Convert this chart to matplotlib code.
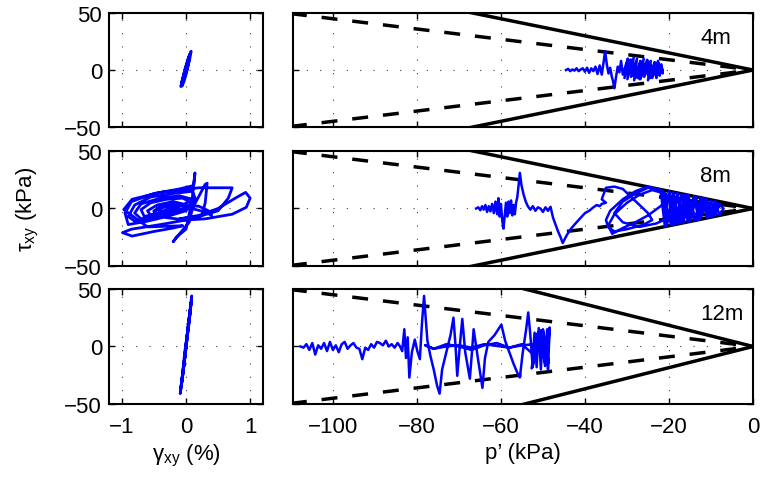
import matplotlib
matplotlib.use("Agg")
import matplotlib.pyplot as plt

plt.rcParams['font.family'] = ['Liberation Sans', 'DejaVu Sans']
plt.rcParams['mathtext.default'] = 'regular'
plt.rcParams['font.size'] = 16

depths = ["4m", "8m", "12m"]
# stress ratio of the solid (failure) lines per depth, dashed line ratio is shared
solid_ratio = [0.75, 0.75, 0.92]
dashed_ratio = 0.45

# shear strain (%) vs shear stress (kPa), left column
gam_4m = [0.00, -0.03, -0.06, -0.08, -0.06, -0.03, 0.01, 0.04, 0.07, 0.08,
          0.06, 0.03, 0.00, -0.03, -0.06, -0.07, -0.04, -0.01, 0.03, 0.06,
          0.05, 0.02, -0.02, -0.05, -0.07, -0.04, 0.00, 0.03, 0.05, 0.02]
tau_4m = [0.0, -7.0, -12.0, -14.5, -9.0, -3.0, 5.0, 11.0, 15.0, 16.5,
          10.0, 3.0, -4.0, -10.0, -14.0, -12.0, -5.0, 2.0, 9.0, 14.0,
          9.0, 1.0, -6.0, -11.0, -13.0, -7.0, 1.0, 7.0, 11.0, 4.0]

gam_8m = [0.00, -0.30, -0.55, -0.60, -0.45, -0.20, -0.05, -0.25, -0.50, -0.65,
          -0.70, -0.55, -0.30, -0.05, 0.05, -0.20, -0.45, -0.70, -0.80, -0.70,
          -0.40, -0.10, 0.10, 0.05, -0.20, -0.50, -0.80, -0.90, -0.80, -0.55,
          -0.20, 0.10, 0.15, 0.00, -0.30, -0.60, -0.90, -0.95, -0.85, -0.50,
          -0.10, 0.12, 0.14, 0.10, 0.05, 0.00, -0.15, -0.20, -0.10, 0.05,
          0.10, 0.30, 0.33, 0.30, 0.25, 0.00, -0.40, -0.85, -0.99, -0.84,
          -0.50, -0.20, -0.05, -0.60, -0.97, -0.84, -0.40, 0.20, 0.72, 0.66,
          0.50, 0.20, -0.10, 0.20, 0.50, 0.80, 0.93, 1.00, 0.94, 0.72,
          0.30, 0.00, -0.30, -0.50, -0.40, -0.20, 0.30, 0.40, 0.35, 0.20,
          -0.10, -0.35, -0.50, -0.45, -0.30, -0.15, -0.30, -0.45, -0.35, -0.20]
tau_8m = [0.0, -3.0, -6.0, -2.0, 3.0, 6.0, 4.0, -2.0, -5.0, -7.0,
          -1.0, 5.0, 8.0, 9.0, 6.0, -1.0, -6.0, -9.0, -4.0, 4.0,
          9.0, 11.0, 8.0, 2.0, -4.0, -8.0, -11.0, -7.0, 3.0, 10.0,
          13.0, 15.0, 8.0, -2.0, -7.0, -11.0, -14.0, -4.0, 6.0, 13.0,
          17.0, 20.0, 31.0, 10.0, -5.0, -18.0, -25.0, -29.0, -22.0, -12.0,
          0.0, 21.0, 22.0, 5.0, -6.0, -10.0, -14.0, -18.0, -21.0, -24.0,
          -20.0, -17.0, -15.0, -16.0, -1.0, 8.0, 14.0, 18.0, 18.0, 9.0,
          -2.0, -7.0, -9.0, -6.0, 0.0, 10.0, 14.0, 9.0, 1.0, -5.0,
          -9.0, -10.0, -8.0, -3.0, 2.0, 4.0, -3.0, -6.0, -2.0, 2.0,
          3.0, 1.0, -2.0, -4.0, -1.0, 2.0, 3.0, 0.0, -3.0, 0.0]

gam_12m = [0.00, -0.03, -0.06, -0.09, -0.06, -0.02, 0.02, 0.06, 0.09, 0.07,
           0.03, -0.02, -0.05, -0.08, -0.05, -0.01, 0.03, 0.06, 0.08, 0.04,
           0.00, -0.04, -0.07, -0.03, 0.01, 0.05, 0.07, 0.03, -0.01, -0.04]
tau_12m = [0.0, -15.0, -30.0, -41.0, -28.0, -10.0, 10.0, 30.0, 44.0, 32.0,
           15.0, -5.0, -22.0, -36.0, -25.0, -6.0, 13.0, 26.0, 38.0, 20.0,
           0.0, -18.0, -32.0, -16.0, 3.0, 22.0, 34.0, 16.0, -4.0, -20.0]

# effective mean stress p' (kPa) vs shear stress (kPa), right column
p_4m = [-44.5, -44.0, -43.5, -43.0, -42.5, -42.0, -41.5, -41.0, -40.5, -40.0,
        -39.5, -39.0, -38.5, -38.0, -37.5, -37.0, -36.5, -36.0, -35.6, -35.2,
        -34.8, -34.4, -34.0, -33.6, -33.3, -33.0, -32.6, -32.2, -31.8, -31.4,
        -31.0, -29.8, -30.6, -29.2, -29.9, -28.4, -29.0, -27.6, -28.3, -26.8,
        -27.5, -26.0, -26.8, -25.2, -25.9, -24.3, -25.0, -23.4, -24.1, -22.6,
        -23.0, -22.6, -22.2, -21.8, -21.5, -22.5, -24.0, -26.0, -28.0, -30.0,
        -28.5, -26.5, -24.5, -22.5, -21.5, -23.0, -25.0, -27.0, -29.0, -30.5]
q_4m = [0.0, 1.0, -1.0, 0.5, -0.5, 1.5, -1.0, 0.5, 1.5, -1.5,
        2.0, -2.5, 1.5, -1.0, 3.0, -3.5, 4.0, -4.0, 6.0, 16.5,
        5.0, -3.0, 2.0, -6.0, -10.0, -16.0, -6.0, 3.0, -2.0, 8.0,
        -4.0, 10.0, -7.0, 9.0, -8.0, 11.0, -6.0, 10.0, -9.0, 8.0,
        -7.0, 10.0, -8.0, 9.0, -6.0, 8.0, -9.0, 7.0, -6.0, 8.0,
        -7.0, 6.0, -5.0, 5.0, -3.0, 6.0, -7.0, 5.0, -6.0, 4.0,
        -5.0, 7.0, -7.0, 6.0, 0.0, -5.0, 8.0, -8.0, 9.0, -3.0]

p_8m = [-65.9, -65.4, -64.9, -64.5, -64.1, -63.7, -63.3, -62.9, -62.5, -62.1,
        -61.7, -61.3, -60.9, -60.6, -60.3, -60.0, -59.7, -59.4, -59.1, -58.8,
        -58.5, -58.2, -57.9, -57.6, -57.3, -57.0, -56.7, -56.4, -56.1, -55.8,
        -55.5, -55.1, -54.6, -54.1, -53.6, -53.0, -52.4, -51.8, -51.2, -50.6,
        -50.0, -49.4, -48.8, -48.2, -47.6, -47.0, -46.4, -45.8, -45.3, -44.3,
        -43.2, -42.0, -41.0, -40.0, -39.0, -38.0, -37.2, -36.5, -36.0, -35.0,
        -36.0, -35.0, -33.0, -31.0, -29.0, -27.0, -25.0, -24.0, -26.0, -30.0,
        -33.0, -34.5, -35.0, -34.0, -31.0, -28.0, -25.0, -22.0, -20.0, -22.0,
        -25.0, -28.0, -31.0, -33.5, -34.5, -33.0, -30.0, -27.0, -24.0, -21.0,
        -19.0, -18.0, -20.0, -23.0, -27.0, -31.0, -33.0, -31.0, -28.0, -25.0,
        -22.0, -21.0, -20.0, -19.0, -18.0, -17.0, -16.0, -15.0, -14.0, -13.0,
        -12.0, -11.0, -10.0, -9.0, -8.0, -9.5, -11.0, -12.5, -14.0, -15.5,
        -17.0, -18.5, -20.0, -18.0, -16.0, -14.0, -12.0, -10.0, -8.5, -7.0,
        -8.0, -9.0, -10.5, -11.5, -13.0, -13.5, -15.0, -16.5, -17.5, -19.0,
        -20.5, -21.5, -19.5, -18.0, -16.5, -15.5, -13.5, -12.5, -10.0, -9.0]
q_8m = [0.0, 1.0, -1.5, 2.0, -1.0, 3.0, -3.0, 2.0, -2.5, 4.0,
        -4.0, 6.0, -5.0, 9.0, -7.0, 4.0, -10.0, -17.5, -6.0, 5.0,
        -7.0, 6.0, -4.0, 7.0, -6.0, 3.0, -5.0, 5.0, 10.0, 20.0,
        31.0, 20.0, 12.0, 6.0, 2.0, -1.0, 2.0, -2.0, 1.0, 0.0,
        -3.0, 1.0, -2.0, 1.5, -8.0, -14.0, -20.0, -25.0, -30.0, -23.0,
        -17.0, -12.0, -8.0, -4.0, -2.0, 1.0, 3.0, 2.0, 4.0, 5.0,
        8.0, 18.0, 19.0, 17.0, 10.0, 3.0, -4.0, -10.0, -14.0, -18.0,
        -20.0, -16.0, -10.0, -2.0, 8.0, 15.0, 19.0, 16.0, 10.0, 2.0,
        -6.0, -12.0, -17.0, -22.0, -15.0, -5.0, 5.0, 12.0, 16.0, 13.0,
        6.0, -2.0, -8.0, -13.0, -16.0, -12.0, -4.0, 6.0, 13.0, 18.0,
        16.0, -15.0, 14.5, -14.0, 13.0, -12.5, 12.0, -11.0, 10.5, -9.5,
        9.0, -8.0, 7.0, -6.0, 3.0, -6.5, 8.0, -9.0, 10.5, -11.5,
        12.5, -13.5, 15.0, -13.0, 11.5, -10.0, 9.0, -7.5, 5.0, 0.0,
        -5.5, 6.5, -7.5, 8.5, -9.5, 10.0, -11.0, 12.0, -13.0, 14.0,
        -15.0, 15.5, -14.5, 13.5, -12.0, 11.5, -10.0, 9.5, -7.0, 1.0]

p_12m = [-107.7, -107.0, -106.3, -105.6, -104.9, -104.2, -103.5, -102.8, -102.1, -101.4,
         -100.7, -100.0, -99.3, -98.6, -97.9, -97.2, -96.5, -95.8, -95.1, -94.4,
         -93.7, -93.0, -92.3, -91.6, -90.9, -90.2, -89.5, -88.8, -88.1, -87.4,
         -86.7, -86.0, -85.3, -84.6, -84.0, -83.5, -83.0, -82.6, -82.2, -81.8,
         -81.2, -80.5, -79.9, -79.3, -78.8, -78.3, -77.9, -77.5, -76.8, -76.0,
         -75.2, -74.6, -74.0, -73.0, -72.0, -71.3, -70.8, -70.4, -69.8, -69.2,
         -68.5, -67.4, -66.9, -66.5, -65.5, -64.4, -63.8, -63.0, -61.5, -59.9,
         -59.0, -58.0, -57.0, -56.2, -55.5, -54.8, -54.0, -53.5, -53.0, -52.5,
         -52.0, -51.5, -51.0, -50.5, -50.0, -49.5, -49.0, -48.8, -48.4, -49.0,
         -52.0, -55.0, -58.0, -61.0, -64.0, -67.0, -70.0, -73.0, -76.0, -78.0,
         -76.0, -73.0, -70.0, -67.0, -64.0, -61.0, -58.0, -55.0, -52.0, -50.0,
         -49.5, -51.0, -52.5, -50.5, -49.0, -51.5, -52.7, -50.0, -48.6, -50.5]
q_12m = [0.0, -1.0, 2.0, -3.0, 3.0, -7.0, 1.0, -2.0, 3.0, -4.0,
         4.0, -3.0, 1.0, -5.0, 2.0, 4.0, -2.0, 1.0, 3.0, -1.0,
         -2.0, -11.0, -1.0, -3.0, 2.0, -1.0, 4.0, 3.0, 1.0, 5.0,
         0.0, 2.0, -1.0, 3.0, 0.0, -4.0, 15.0, -10.0, 8.0, -27.0,
         -5.0, 6.0, -4.0, -11.0, 20.0, 44.0, 24.0, 5.0, -8.0, -20.0,
         -34.0, -41.0, -20.0, -5.0, 10.0, 25.0, 0.0, -25.5, 0.0, 24.0,
         -5.0, -28.0, -5.0, 15.0, -10.0, -36.0, -10.0, 4.0, 10.0, 19.0,
         5.0, -5.0, -15.0, -22.0, -27.0, -5.0, 15.0, 29.6, 10.0, -15.0,
         12.0, -18.0, 16.0, -20.0, 14.0, -17.0, 15.0, -20.0, 16.5, -12.0,
         2.0, 1.0, -1.0, 0.5, 2.0, -1.0, 1.0, 0.0, -2.0, 1.0,
         -2.0, 2.0, 0.0, -3.0, 1.0, 3.0, -1.0, 2.0, -8.0, 10.0,
         -15.0, 13.0, -18.0, 14.0, -16.0, 11.0, -19.0, 15.0, -14.0, 5.0]

gam_all = [gam_4m, gam_8m, gam_12m]
tau_all = [tau_4m, tau_8m, tau_12m]
p_all = [p_4m, p_8m, p_12m]
q_all = [q_4m, q_8m, q_12m]

fig = plt.figure(figsize=(7.6, 4.89), dpi=100)

rows = [(0.7382, 0.2331), (0.4540, 0.2352), (0.1718, 0.2352)]
grid_kw = dict(color='0.25', linestyle=(0, (1, 11)), linewidth=0.8)
blue = (0, 0, 1)

for i, (bot, h) in enumerate(rows):
    axl = fig.add_axes([0.1434, bot, 0.2026, h])
    axr = fig.add_axes([0.3855, bot, 0.6053, h])

    axl.plot(gam_all[i], tau_all[i], color=blue, lw=2)
    axl.set_xlim(-1.2, 1.2)
    axl.set_ylim(-50, 50)
    axl.set_xticks([-1, 0, 1])
    axl.set_yticks([-50, 0, 50])

    pl = [-110, 0]
    sr = solid_ratio[i]
    axr.plot(pl, [-sr * pl[0], 0], color='k', lw=2.5, solid_capstyle='butt')
    axr.plot(pl, [sr * pl[0], 0], color='k', lw=2.5, solid_capstyle='butt')
    axr.plot(pl, [-dashed_ratio * pl[0], 0], color='k', lw=2.5, linestyle=(0, (4.6, 4.3)))
    axr.plot(pl, [dashed_ratio * pl[0], 0], color='k', lw=2.5, linestyle=(0, (4.6, 4.3)))
    axr.plot(p_all[i], q_all[i], color=blue, lw=1.8)
    axr.set_xlim(-109.5, 0)
    axr.set_ylim(-50, 50)
    axr.set_xticks([-100, -80, -60, -40, -20, 0])
    axr.set_yticks([-50, 0, 50])
    axr.set_yticklabels([])
    axr.text(0.885, 0.88, depths[i], transform=axr.transAxes, ha='left', va='top', fontsize=16)

    for ax in (axl, axr):
        ax.grid(True, **grid_kw)
        ax.tick_params(direction='in', length=4, width=1, top=True, right=True)
        ax.tick_params(axis='y', pad=5)
        ax.tick_params(axis='x', pad=8.5)
        for s in ax.spines.values():
            s.set_linewidth(1.5)
        if i < 2:
            ax.set_xticklabels([])

    if i == 1:
        axl.set_ylabel('τ$_{xy}$ (kPa)', labelpad=17)
    if i == 2:
        axl.set_xlabel('γ$_{xy}$ (%)', labelpad=4)
        axr.set_xlabel('p’ (kPa)', labelpad=4)

fig.savefig("out.png", dpi=100)
